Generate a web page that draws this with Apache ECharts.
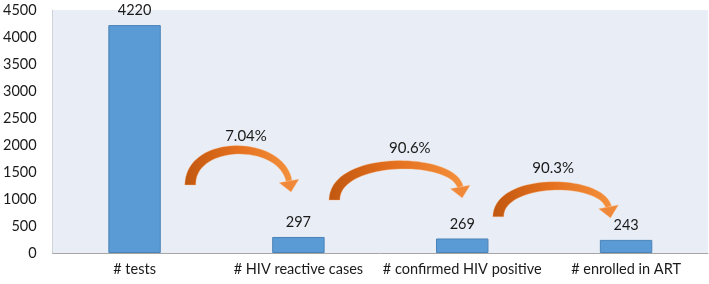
<!DOCTYPE html>
<html style="height: 100%;width:100%">
<head>
	<meta charset="utf-8">
	<style>html,body{margin:0;padding:0;background:#fff;}</style>
</head>
<body style="height: 100%; width:100%">
	<div id="chart-panel" style="height: 284px;width: 709px"></div>
	<script type="text/javascript" src="https://cdn.jsdelivr.net/npm/echarts@6/dist/echarts.min.js"></script>
	<script type="text/javascript">
		var categories = ['# tests', '# HIV reactive cases', '# confirmed HIV positive', '# enrolled in ART'];
		var counts = [4220, 297, 269, 243];
		var rates = ['7.04%', '90.6%', '90.3%'];
		var yTicks = [0, 500, 1000, 1500, 2000, 2500, 3000, 3500, 4000, 4500];

		// arrow geometry (category units for x, axis values for y)
		var arrowLayout = [
			{ from: 0.34, to: 0.955, base: 1260, top: 1910, tip: 1130, lx: 0.68, ly: 2160 },
			{ from: 1.22, to: 2.0, base: 980, top: 1630, tip: 1020, lx: 1.68, ly: 1940 },
			{ from: 2.22, to: 2.905, base: 670, top: 1240, tip: 650, lx: 2.555, ly: 1570 }
		];

		var fontFam = 'Lato';
		var dom = document.getElementById('chart-panel');
		var myChart = echarts.init(dom);

		function renderArrow(params, api) {
			var a = arrowLayout[params.dataIndex];
			var p0 = api.coord([0, 0]);
			var bw = api.size([1, 0])[0];
			var px = function (f) { return p0[0] + f * bw; };
			var py = function (v) { return api.coord([0, v])[1]; };

			var S = [px(a.from), py(a.base)];
			var T = [px(a.to), py(a.tip)];
			var E = [T[0] - 2, T[1] - 11];
			var peakY = py(a.top);
			var cpY = (peakY - 0.125 * (S[1] + E[1])) / 0.75;
			var c1 = [S[0], cpY];
			var c2 = [E[0] - 8, cpY];

			var left = [], right = [];
			var n = 40;
			for (var k = 0; k <= n; k++) {
				var t = k / n, u = 1 - t;
				var x = u * u * u * S[0] + 3 * u * u * t * c1[0] + 3 * u * t * t * c2[0] + t * t * t * E[0];
				var y = u * u * u * S[1] + 3 * u * u * t * c1[1] + 3 * u * t * t * c2[1] + t * t * t * E[1];
				var dx = 3 * u * u * (c1[0] - S[0]) + 6 * u * t * (c2[0] - c1[0]) + 3 * t * t * (E[0] - c2[0]);
				var dy = 3 * u * u * (c1[1] - S[1]) + 6 * u * t * (c2[1] - c1[1]) + 3 * t * t * (E[1] - c2[1]);
				var len = Math.sqrt(dx * dx + dy * dy) || 1;
				var nx = -dy / len, ny = dx / len;
				var w = (11 - 5 * t) / 2;
				left.push([x + nx * w, y + ny * w]);
				right.push([x - nx * w, y - ny * w]);
			}
			var band = left.concat(right.reverse());

			var ddx = T[0] - E[0], ddy = T[1] - E[1];
			var dl = Math.sqrt(ddx * ddx + ddy * ddy);
			var hx = -ddy / dl * 10, hy = ddx / dl * 10;
			var head = [[E[0] + hx, E[1] + hy], T, [E[0] - hx, E[1] - hy]];

			var grad = new echarts.graphic.LinearGradient(0, 0, 1, 0, [
				{ offset: 0, color: '#c1570f' },
				{ offset: 0.5, color: '#e5711f' },
				{ offset: 1, color: '#f3903c' }
			]);

			return {
				type: 'group',
				children: [
					{ type: 'polygon', shape: { points: band }, style: { fill: grad, stroke: 'rgba(250,190,140,0.6)', lineWidth: 0.6 } },
					{ type: 'polygon', shape: { points: head }, style: { fill: '#f0883a', stroke: 'rgba(250,190,140,0.6)', lineWidth: 0.6 } },
					{
						type: 'text',
						style: {
							x: px(a.lx), y: py(a.ly),
							text: rates[params.dataIndex],
							fill: '#1a1a1a',
							font: '15px ' + fontFam,
							align: 'center', verticalAlign: 'middle'
						}
					}
				]
			};
		}

		var option = {
			backgroundColor: '#ffffff',
			animation: false,
			grid: {
				left: 48, right: 1, top: 10, bottom: 31,
				show: true,
				backgroundColor: '#e9edf5',
				borderWidth: 0
			},
			xAxis: {
				type: 'category',
				data: categories,
				axisLine: { lineStyle: { color: '#a6a6a6', width: 1 } },
				axisTick: { show: false },
				axisLabel: { interval: 0, margin: 9, color: '#1a1a1a', fontSize: 14.5, fontFamily: fontFam }
			},
			yAxis: {
				type: 'value',
				min: yTicks[0],
				max: yTicks[yTicks.length - 1],
				interval: 500,
				axisLine: { show: true, lineStyle: { color: '#cfd3da' } },
				axisTick: { show: false },
				splitLine: { show: false },
				axisLabel: {
					margin: 16, color: '#1a1a1a', fontSize: 14.5, fontFamily: fontFam,
					formatter: function (v) { return String(v); }
				}
			},
			series: [
				{
					type: 'bar',
					data: counts,
					barWidth: '32%',
					itemStyle: { color: '#5b9bd5', borderColor: '#4a82b8', borderWidth: 1 },
					label: { show: true, position: 'top', distance: 7, color: '#1a1a1a', fontSize: 14.5, fontFamily: fontFam }
				},
				{
					type: 'custom',
					renderItem: renderArrow,
					silent: true,
					clip: false,
					z: 5,
					data: rates.map(function (r, i) { return [i, 0]; })
				}
			]
		};
		myChart.setOption(option);
	</script>
</body>
</html>
